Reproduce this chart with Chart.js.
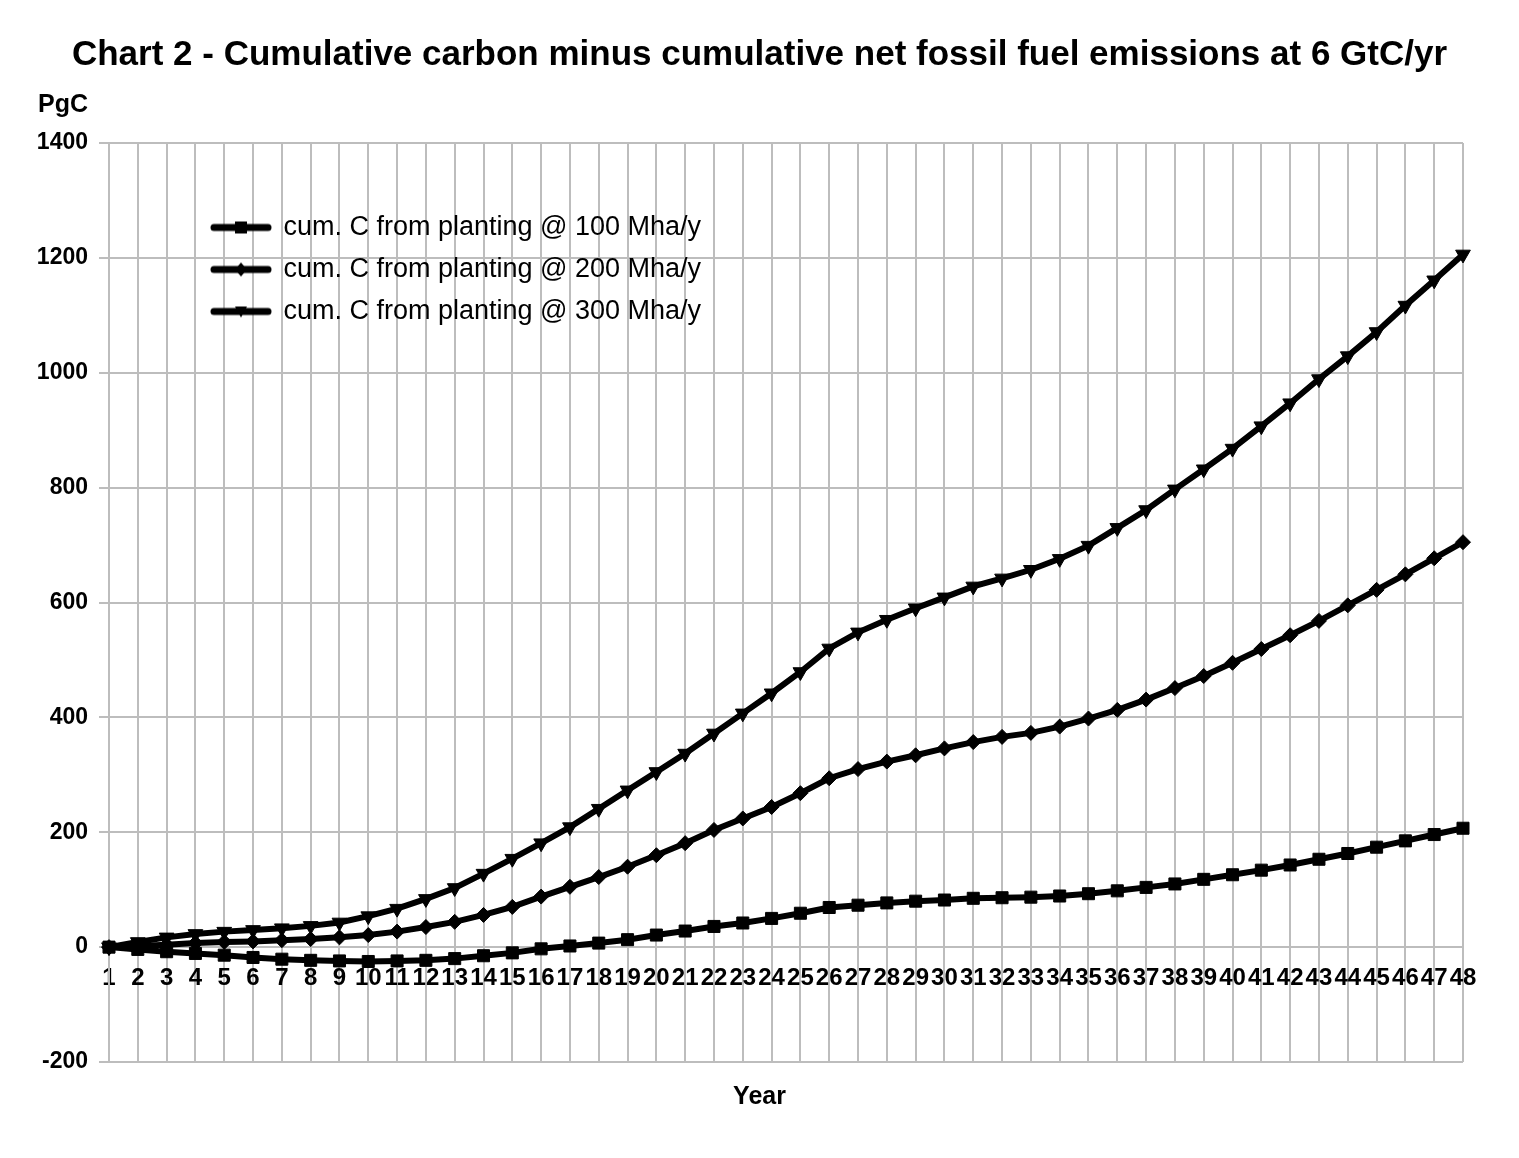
<!DOCTYPE html>
<html>
<head>
<meta charset="utf-8">
<script src="https://cdn.jsdelivr.net/npm/chart.js@4/dist/chart.umd.min.js"></script>
<style>
  html, body { margin: 0; padding: 0; background: #fff; }
  #wrap { width: 1519px; height: 1158px; position: relative; }
</style>
</head>
<body>
<div id="wrap"><canvas id="c" width="1519" height="1158"></canvas></div>
<script>
// ---- data ----
const years = [1,2,3,4,5,6,7,8,9,10,11,12,13,14,15,16,17,18,19,20,21,22,23,24,25,26,27,28,29,30,31,32,33,34,35,36,37,38,39,40,41,42,43,44,45,46,47,48];
const plant100 = [0,-4,-8,-11,-14,-18,-21,-23,-24,-25,-24,-23,-20,-15,-10,-3,2,7,13,21,28,36,42,50,59,69,73,77,80,82,85,86,87,89,93,98,104,110,118,126,134,143,153,163,174,185,196,207];
const plant200 = [0,2,4,7,9,10,12,14,17,21,27,35,44,56,70,88,105,122,140,160,181,204,224,244,268,294,310,323,334,346,357,366,373,384,398,413,431,451,472,495,519,543,568,595,622,649,677,705];
const plant300 = [0,9,17,23,27,30,33,37,43,54,67,84,103,128,154,181,209,241,273,305,337,372,407,442,479,520,548,570,590,609,628,642,657,676,699,730,761,797,832,868,907,947,989,1029,1071,1117,1161,1206];
const seriesNames = ['cum. C from planting @ 100 Mha/y', 'cum. C from planting @ 200 Mha/y', 'cum. C from planting @ 300 Mha/y'];
const yTicks = [-200, 0, 200, 400, 600, 800, 1000, 1200, 1400];
const titleText = 'Chart 2 - Cumulative carbon minus cumulative net fossil fuel emissions at 6 GtC/yr';
const yUnit = 'PgC';
const xTitle = 'Year';

const FONT = '"Liberation Sans", Arial, sans-serif';
const GRID = '#bdbdbd';

// legend icons: thick line with marker in the middle
function legendIcon(kind) {
  const cv = document.createElement('canvas');
  cv.width = 62; cv.height = 20;
  const g = cv.getContext('2d');
  g.strokeStyle = '#000'; g.fillStyle = '#000';
  g.lineWidth = 7; g.lineCap = 'round';
  g.beginPath(); g.moveTo(4, 10); g.lineTo(58, 10); g.stroke();
  g.beginPath();
  if (kind === 'rect') { g.rect(25, 4, 12, 12); }
  else if (kind === 'rectRot') { g.moveTo(31, 3); g.lineTo(37, 10); g.lineTo(31, 17); g.lineTo(25, 10); g.closePath(); }
  else { g.moveTo(25, 5); g.lineTo(37, 5); g.lineTo(31, 16); g.closePath(); }
  g.fill();
  return cv;
}
const icons = [legendIcon('rect'), legendIcon('rectRot'), legendIcon('tri')];

const extras = {
  id: 'extras',
  afterLayout(chart) {
    const ca = chart.chartArea;
    const lg = chart.legend;
    if (lg) {
      lg.left = ca.left + 88;
      lg.top = ca.top + 56;
      lg.right = ca.right;
      lg.bottom = ca.bottom;
    }
  },
  afterDraw(chart) {
    const ctx = chart.ctx;
    ctx.save();
    ctx.font = 'bold 25px ' + FONT;
    ctx.fillStyle = '#000';
    ctx.textAlign = 'right';
    ctx.textBaseline = 'middle';
    ctx.fillText(yUnit, 88, 105);
    ctx.restore();
  }
};

function ds(label, data, style, radius, rotation) {
  return {
    label, data,
    borderColor: '#000', backgroundColor: '#000',
    borderWidth: 6,
    pointStyle: style, pointRadius: radius, pointHoverRadius: radius,
    pointRotation: rotation || 0,
    pointBackgroundColor: '#000', pointBorderColor: '#000', pointBorderWidth: 1,
    tension: 0
  };
}

new Chart(document.getElementById('c'), {
  type: 'line',
  data: {
    labels: years,
    datasets: [
      ds(seriesNames[0], plant100, 'rect', 8.5),
      ds(seriesNames[1], plant200, 'rectRot', 7.5),
      ds(seriesNames[2], plant300, 'triangle', 8.5, 180)
    ]
  },
  options: {
    responsive: false,
    animation: false,
    devicePixelRatio: 1,
    layout: { padding: { left: 0, right: 0, top: 0, bottom: 26 } },
    plugins: {
      title: {
        display: true, text: titleText, color: '#000',
        font: { family: FONT, size: 35, weight: 'bold' },
        padding: { top: 34, bottom: 67 }
      },
      subtitle: {
        display: true, text: xTitle, position: 'bottom', color: '#000',
        font: { family: FONT, size: 25, weight: 'bold' },
        padding: { top: 20, bottom: 20 }
      },
      legend: {
        position: 'chartArea', align: 'start',
        labels: {
          usePointStyle: true, pointStyleWidth: 58, padding: 15,
          color: '#000', font: { family: FONT, size: 27 },
          generateLabels: (chart) => chart.data.datasets.map((d, i) => ({
            text: d.label, pointStyle: icons[i], fillStyle: '#000', strokeStyle: '#000',
            lineWidth: 0, hidden: false, datasetIndex: i, rotation: 0, fontColor: '#000'
          }))
        }
      },
      tooltip: { enabled: false }
    },
    scales: {
      x: {
        position: { y: 0 },
        offset: false,
        grid: { color: GRID, lineWidth: 2, drawTicks: false },
        border: { color: GRID, width: 2 },
        ticks: {
          color: '#000', font: { family: FONT, size: 24, weight: 'bold' },
          autoSkip: false, maxRotation: 0, minRotation: 0, padding: 17
        }
      },
      y: {
        min: -200, max: 1400,
        afterFit: (s) => { s.width = 109; },
        afterBuildTicks: (s) => { s.ticks = yTicks.map(v => ({ value: v })); },
        grid: { color: GRID, lineWidth: 2, drawTicks: true, tickLength: 10 },
        border: { color: GRID, width: 2 },
        ticks: {
          color: '#000', font: { family: FONT, size: 23, weight: 'bold' },
          padding: 11,
          callback: (v) => String(v)
        }
      },
      yRight: {
        position: 'right',
        min: -200, max: 1400,
        afterFit: (s) => { s.width = 56; },
        grid: { display: false, drawOnChartArea: false, drawTicks: false },
        border: { display: false },
        ticks: { display: false }
      }
    }
  },
  plugins: [extras]
});
</script>
</body>
</html>
